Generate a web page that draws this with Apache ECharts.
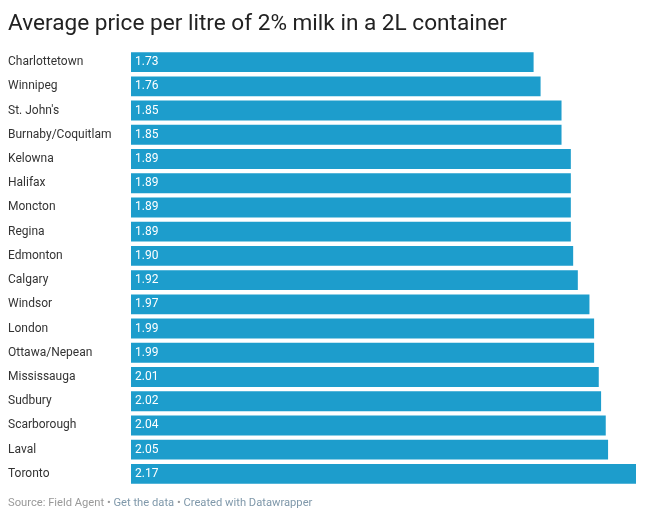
<!DOCTYPE html>
<html><head><meta charset="utf-8">
<script src="https://cdn.jsdelivr.net/npm/echarts@6/dist/echarts.min.js"></script>
<style>html,body{margin:0;padding:0;background:#fff}#c{width:650px;height:518px}</style>
</head><body><div id="c"></div>
<script>
const cities = ["Charlottetown","Winnipeg","St. John's","Burnaby/Coquitlam","Kelowna","Halifax","Moncton","Regina","Edmonton","Calgary","Windsor","London","Ottawa/Nepean","Mississauga","Sudbury","Scarborough","Laval","Toronto"];
const prices = [1.73,1.76,1.85,1.85,1.89,1.89,1.89,1.89,1.90,1.92,1.97,1.99,1.99,2.01,2.02,2.04,2.05,2.17];
const titleText = "Average price per litre of 2% milk in a 2L container";

const chart = echarts.init(document.getElementById('c'));
chart.setOption({
  animation:false,
  backgroundColor:'#fff',
  title:{text:titleText,left:3,top:8,textStyle:{fontFamily:'Roboto',fontWeight:'normal',fontSize:22.6,color:'#222'}},
  graphic:[{type:'text',left:8,top:498,style:{
    text:'{a|Source: Field Agent • }{b|Get the data}{a| • }{b|Created with Datawrapper}',
    rich:{a:{fontFamily:'Roboto',fontSize:11.2,fill:'#999'},b:{fontFamily:'Roboto',fontSize:11.2,fill:'#7f98aa'}}
  }}],
  grid:{left:131,right:14,top:50,bottom:32},
  xAxis:{type:'value',min:0,max:2.17,show:false},
  yAxis:{type:'category',data:cities,inverse:true,
    axisLine:{show:false},axisTick:{show:false},
    axisLabel:{align:'left',margin:123,fontFamily:'Roboto',fontSize:12,color:'#333'}},
  series:[{type:'bar',data:prices,barCategoryGap:'18%',
    itemStyle:{color:'#1d9dcc'},
    label:{show:true,position:'insideLeft',distance:4,color:'#fff',fontFamily:'Roboto',fontSize:12,
      formatter:p=>p.value.toFixed(2)}}]
});
</script></body></html>
